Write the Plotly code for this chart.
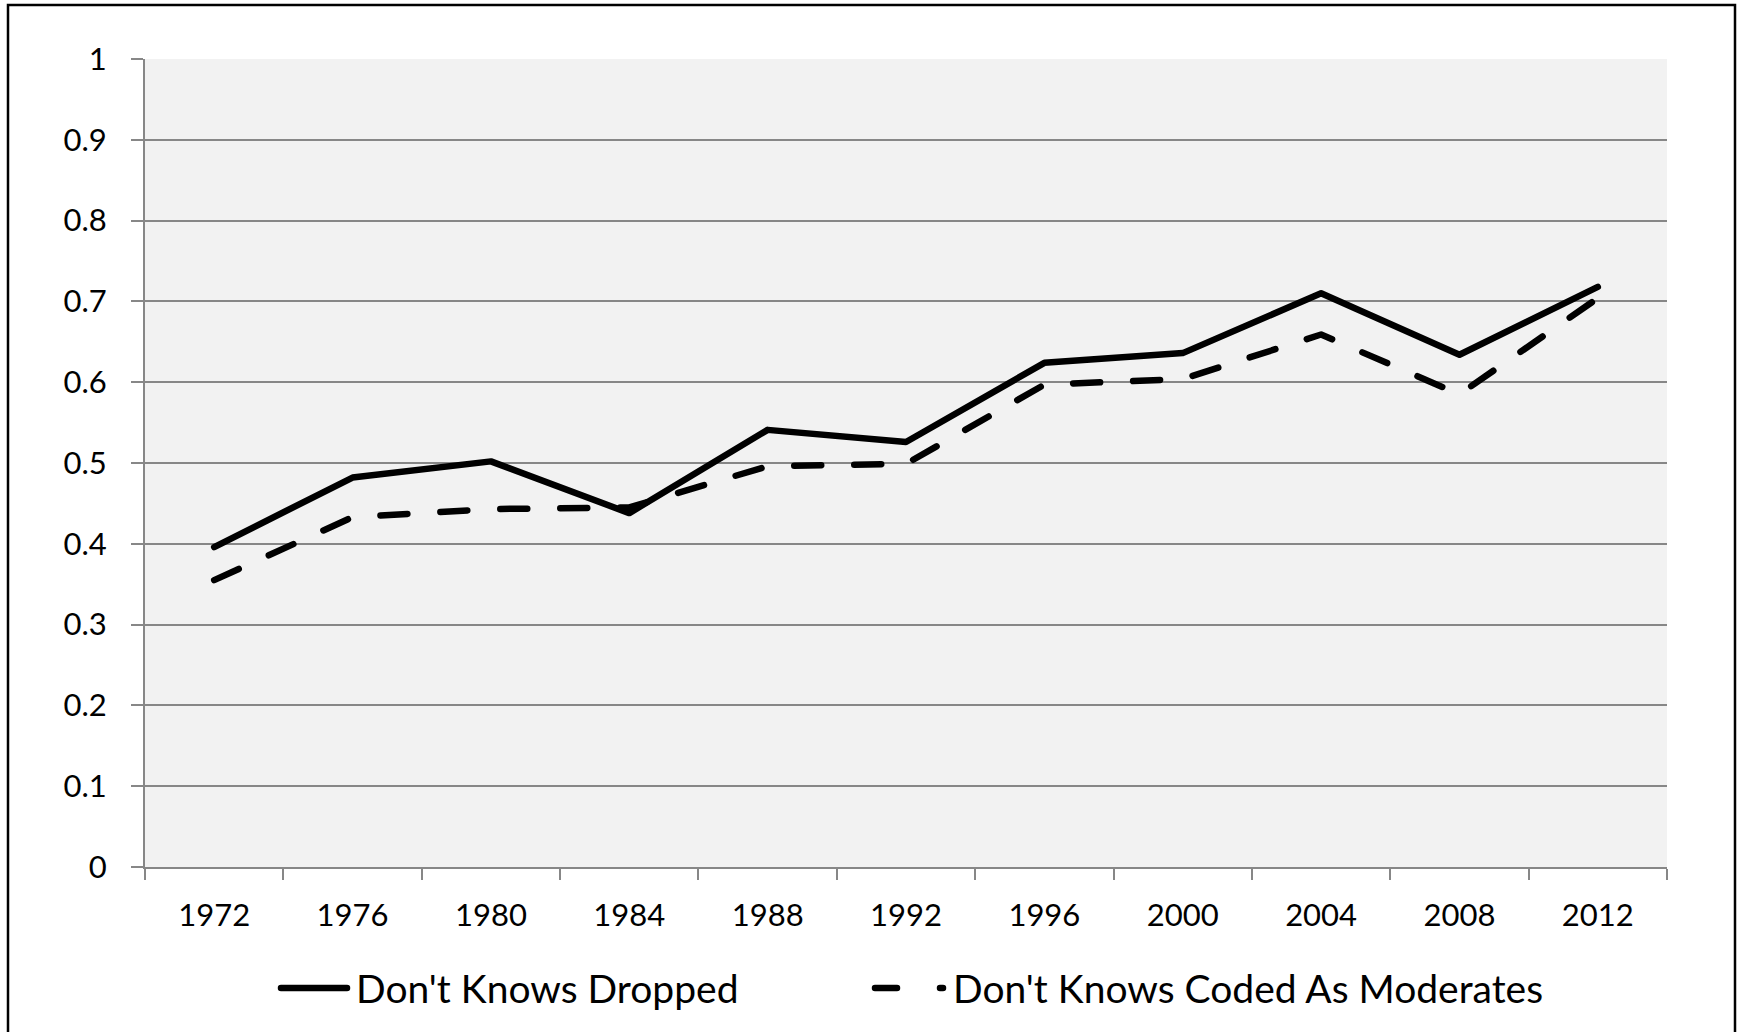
import plotly.graph_objects as go

years = ["1972", "1976", "1980", "1984", "1988", "1992", "1996", "2000", "2004", "2008", "2012"]
dropped = [0.396, 0.482, 0.502, 0.438, 0.541, 0.526, 0.624, 0.636, 0.710, 0.634, 0.718]
moderates = [0.355, 0.433, 0.443, 0.445, 0.496, 0.499, 0.597, 0.604, 0.659, 0.585, 0.704]
name_dropped = "Don't Knows Dropped"
name_moderates = "Don't Knows Coded As Moderates"
y_ticks = [0, 0.1, 0.2, 0.3, 0.4, 0.5, 0.6, 0.7, 0.8, 0.9, 1]
y_tick_labels = ["0", "0.1", "0.2", "0.3", "0.4", "0.5", "0.6", "0.7", "0.8", "0.9", "1"]

W, H = 1741, 1032
L, R, T, B = 145, 74, 59, 165
pw, ph = W - L - R, H - T - B

def px(x):
    return (x - L) / pw

def py(y):
    return (H - B - y) / ph

FONT = "Lato"
GRID = "#878787"
LW = 6.5

fig = go.Figure()
fig.add_trace(go.Scatter(x=years, y=dropped, mode="lines", name=name_dropped,
                         line=dict(color="black", width=LW), showlegend=False))
fig.add_trace(go.Scatter(x=years, y=moderates, mode="lines", name=name_moderates,
                         line=dict(color="black", width=LW, dash="27px,33px"), showlegend=False))

shapes = [
    # outer frame
    dict(type="rect", xref="paper", yref="paper", x0=px(8), x1=px(1735), y0=py(1045), y1=py(5),
         line=dict(color="black", width=2.5), layer="below"),
    # legend samples
    dict(type="line", xref="paper", yref="paper", x0=px(281), x1=px(347), y0=py(988), y1=py(988),
         line=dict(color="black", width=LW)),
    dict(type="line", xref="paper", yref="paper", x0=px(875), x1=px(943), y0=py(988), y1=py(988),
         line=dict(color="black", width=LW, dash="22px,43px")),
]
annotations = [
    dict(xref="paper", yref="paper", x=px(354), y=py(988), text=name_dropped, showarrow=False,
         xanchor="left", yanchor="middle", font=dict(family=FONT, size=39, color="black")),
    dict(xref="paper", yref="paper", x=px(951), y=py(988), text=name_moderates, showarrow=False,
         xanchor="left", yanchor="middle", font=dict(family=FONT, size=39, color="black")),
]

fig.update_layout(
    width=W, height=H,
    margin=dict(l=L, r=R, t=T, b=B, pad=0),
    paper_bgcolor="white", plot_bgcolor="#f2f2f2",
    font=dict(family=FONT, size=31, color="black"),
    shapes=shapes, annotations=annotations,
    showlegend=False,
)
fig.update_xaxes(type="category", categoryorder="array", categoryarray=years,
                 range=[-0.5, len(years) - 0.5],
                 tickson="boundaries", ticks="outside", ticklen=11, tickwidth=2, tickcolor=GRID,
                 showline=True, linecolor=GRID, linewidth=2, showgrid=False,
                 ticklabelstandoff=20, tickfont=dict(family=FONT, size=31, color="black"))
fig.update_yaxes(range=[0, 1], tickvals=y_ticks, ticktext=y_tick_labels,
                 ticks="outside", ticklen=12, tickwidth=2, tickcolor=GRID,
                 showline=True, linecolor=GRID, linewidth=2,
                 showgrid=True, gridcolor=GRID, gridwidth=2, zeroline=False,
                 ticklabelstandoff=18, tickfont=dict(family=FONT, size=31, color="black"))

post = (
    "document.body.style.margin='0';document.body.style.overflow='hidden';"
    "document.querySelectorAll('.scatterlayer path.js-line').forEach(function(p){"
    "p.style.strokeLinecap='round';p.style.strokeLinejoin='round';});"
    "document.querySelectorAll('.shapelayer path').forEach(function(p){"
    "if(parseFloat(p.style.strokeWidth)>5){p.style.strokeLinecap='round';}});"
)
fig.write_html("out.html", config={"displayModeBar": False}, post_script=post)
